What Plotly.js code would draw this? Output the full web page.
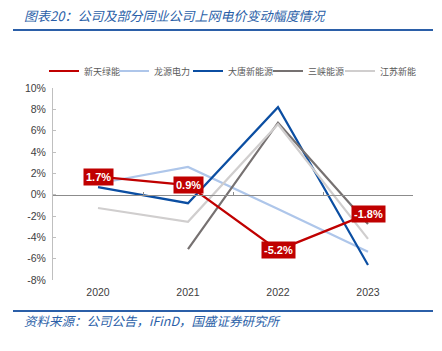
<!DOCTYPE html>
<html>
<head>
<meta charset="utf-8">
<script src="https://cdn.plot.ly/plotly-3.0.1.min.js"></script>
<style>
html,body{margin:0;padding:0;background:#fff;}
#chart{width:442px;height:351px;}
</style>
</head>
<body>
<div id="chart"></div>
<script>
const years = ['2020', '2021', '2022', '2023'];
const seriesNames = ['新天绿能', '龙源电力', '大唐新能源', '三峡能源', '江苏新能'];
const xintian = [1.7, 0.9, -5.2, -1.8];
const longyuan = [1.05, 2.6, -1.35, -5.35];
const datang = [0.7, -0.8, 8.2, -6.6];
const sanxia = [null, -5.1, 6.75, -2.75];
const jiangsu = [-1.25, -2.55, 6.6, -4.15];
const yTicks = [-8, -6, -4, -2, 0, 2, 4, 6, 8, 10];
const titleText = '图表20：公司及部分同业公司上网电价变动幅度情况';
const sourceText = '资料来源：公司公告，iFinD，国盛证券研究所';

const colors = ['#C00000', '#AEC6EA', '#0B4EA2', '#767171', '#D0CECE'];
const allSeries = [xintian, longyuan, datang, sanxia, jiangsu];
const legendIds = ['legend', 'legend2', 'legend3', 'legend4', 'legend5'];
const legendLeftPx = [44, 114, 188, 268, 340];

const traces = allSeries.map((vals, i) => ({
  type: 'scatter', mode: 'lines', x: years, y: vals, name: seriesNames[i],
  line: {color: colors[i], width: 2.2}, connectgaps: false, hoverinfo: 'skip',
  legend: legendIds[i]
}));
const ordered = [traces[1], traces[2], traces[3], traces[4], traces[0]];

const annotations = years.map((yr, i) => ({
  x: i, y: xintian[i], xref: 'x', yref: 'y',
  text: '<b>' + xintian[i].toFixed(1) + '%</b>', showarrow: false,
  bgcolor: '#C00000', font: {color: '#ffffff', size: 11, family: 'Liberation Sans, Arial, sans-serif'},
  borderpad: 2, xanchor: 'center', yanchor: 'middle'
}));
annotations.push({
  x: (22 - 53) / 360, y: (351 - 71 - 15) / 192, xref: 'paper', yref: 'paper',
  text: '<i>' + titleText + '</i>', showarrow: false,
  xanchor: 'left', yanchor: 'middle',
  font: {family: 'Noto Sans CJK SC, sans-serif', size: 13, color: '#2B5FA8'}
});
annotations.push({
  x: (22 - 53) / 360, y: (351 - 71 - 320) / 192, xref: 'paper', yref: 'paper',
  text: '<i>' + sourceText + '</i>', showarrow: false,
  xanchor: 'left', yanchor: 'middle',
  font: {family: 'Noto Sans CJK SC, sans-serif', size: 12.5, color: '#2B5FA8'}
});

const layout = {
  width: 442, height: 351,
  margin: {l: 53, r: 29, t: 88, b: 71, autoexpand: false},
  paper_bgcolor: '#ffffff', plot_bgcolor: '#ffffff',
  showlegend: true,
  xaxis: {
    type: 'category', categoryarray: years, categoryorder: 'array', range: [-0.5, 3.5],
    showline: false, ticks: '', showgrid: false, zeroline: false,
    tickfont: {family: 'Liberation Sans, Arial, sans-serif', size: 10.5, color: '#404040'},
    ticklabelstandoff: 4
  },
  xaxis2: {
    overlaying: 'x', anchor: 'free', position: 8/18, side: 'bottom',
    range: [-0.5, 3.5], tickmode: 'array', tickvals: [0.5, 1.5, 2.5, 3.5],
    ticks: 'inside', ticklen: 3, tickcolor: '#8C8C8C', showticklabels: false,
    showline: true, linecolor: '#8C8C8C', linewidth: 1, showgrid: false, zeroline: false,
    fixedrange: true
  },
  yaxis: {
    range: [-8, 10], tickmode: 'array', tickvals: yTicks,
    ticktext: yTicks.map(v => v + '%'),
    showline: true, linecolor: '#BFBFBF', linewidth: 1,
    ticks: 'inside', ticklen: 3, tickcolor: '#BFBFBF',
    showgrid: false, zeroline: false,
    tickfont: {family: 'Liberation Sans, Arial, sans-serif', size: 10.5, color: '#404040'},
    ticklabelstandoff: 4
  },
  shapes: [
    {type: 'line', xref: 'paper', yref: 'paper', x0: -40/360, x1: 380/360, y0: 1 + 58/192, y1: 1 + 58/192,
     line: {color: '#2B5FA8', width: 2}},
    {type: 'line', xref: 'paper', yref: 'paper', x0: -40/360, x1: 380/360, y0: -31/192, y1: -31/192,
     line: {color: '#2B5FA8', width: 2}}
  ],
  annotations: annotations
};
legendIds.forEach((id, i) => {
  layout[id] = {
    orientation: 'h', x: (legendLeftPx[i] - 53) / 360, xanchor: 'left',
    y: (280 - 71) / 192, yanchor: 'middle', bgcolor: 'rgba(0,0,0,0)',
    font: {family: 'Noto Sans CJK SC, sans-serif', size: 9, color: '#595959'},
    itemwidth: 30
  };
});

const dummy = {type: 'scatter', x: [0], y: [0], xaxis: 'x2', yaxis: 'y', mode: 'markers',
  marker: {opacity: 0}, showlegend: false, hoverinfo: 'skip'};

Plotly.newPlot('chart', ordered.concat([dummy]), layout, {staticPlot: true, displayModeBar: false});
</script>
</body>
</html>
